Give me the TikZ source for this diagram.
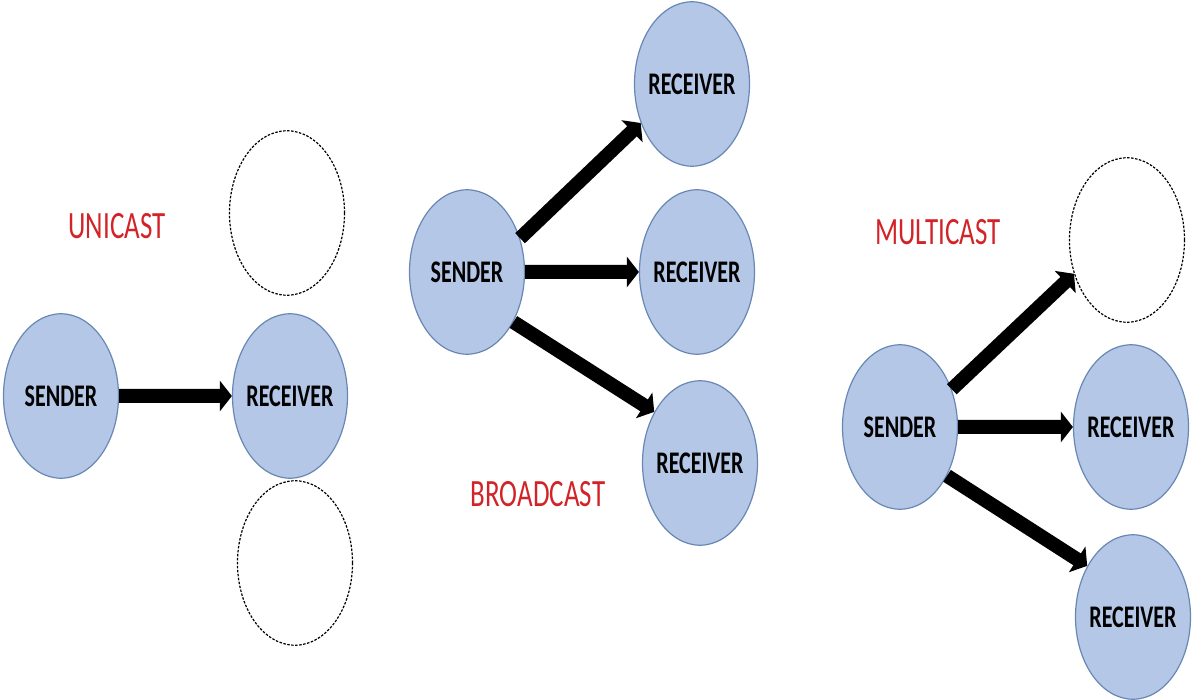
\documentclass[tikz,border=0pt]{standalone}
\usepackage{fontspec}
\setmainfont{Carlito}
\usetikzlibrary{arrows.meta,positioning}
\definecolor{hostfill}{RGB}{180,199,231}
\definecolor{hostline}{RGB}{105,135,180}
\definecolor{castred}{RGB}{210,35,40}

\begin{document}
\begin{tikzpicture}[x=1pt,y=-1pt,>={Triangle[width=30pt,length=12pt]},
    host/.style={circle,draw=hostline,fill=hostfill,line width=1.2pt,minimum size=115pt,inner sep=0pt,yscale=1.43,font=\fontsize{22}{22}\selectfont\bfseries},
    spare/.style={circle,draw,dash pattern=on 2.5pt off 1.5pt,line width=1.2pt,minimum size=115pt,inner sep=0pt,yscale=1.43},
    cast/.style={text=castred,yscale=1.43,font=\fontsize{27}{27}\selectfont},
    flow/.style={->,line width=14pt}]

            \useasboundingbox (0,0) rectangle (1200,700);

            % unicast
            \node[cast] (uni) at (117,226) {UNICAST};

            \node[host] (us) at (61,396) {SENDER};

            \node[host] (ur) at (290,396) {RECEIVER};

            \node[spare] (ua) at (287,213) {};

            \node[spare] (ub) at (295,563) {};

            \path[flow] (us) edge (ur);

            % broadcast
            \node[cast] (broad) at (538,494) {BROADCAST};

            \node[host] (bs) at (467,272) {SENDER};

            \node[host] (br1) at (692,84) {RECEIVER};

            \node[host] (br2) at (697,272) {RECEIVER};

            \node[host] (br3) at (700,463) {RECEIVER};

            \path[flow] (bs.24) edge (br1.208)

                        (bs) edge (br2)

                        (bs.-37) edge (br3.142);

            % multicast
            \node[cast] (multi) at (938,232) {MULTICAST};

            \node[host] (ms) at (900,427) {SENDER};

            \node[spare] (md) at (1127,240) {};

            \node[host] (mr1) at (1131,427) {RECEIVER};

            \node[host] (mr2) at (1133,617) {RECEIVER};

            \path[flow] (ms.27) edge (md.204)

                        (ms) edge (mr1)

                        (ms.-36) edge (mr2.142);

        \end{tikzpicture}
\end{document}
